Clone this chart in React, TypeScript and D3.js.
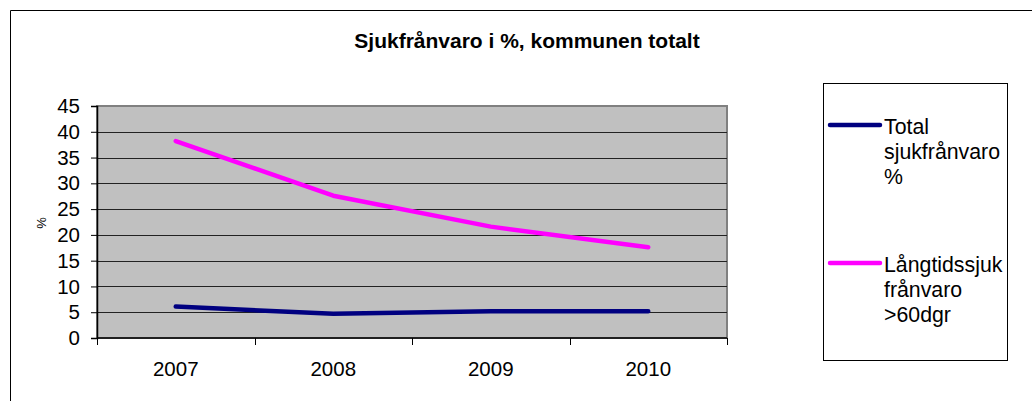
import { useEffect, useRef } from "react";
import * as d3 from "d3";

const years = ["2007", "2008", "2009", "2010"];
const totalSick = [6.1, 4.7, 5.2, 5.2];
const longTermSick = [38.2, 27.6, 21.6, 17.6];
const yTicks = [0, 5, 10, 15, 20, 25, 30, 35, 40, 45];

const series = [
  { name: ["Total", "sjukfrånvaro", "%"], values: totalSick, color: "#000080" },
  { name: ["Långtidssjuk", "frånvaro", ">60dgr"], values: longTermSick, color: "#FF00FF" },
];

function App() {
  const svgRef = useRef(null);

  useEffect(() => {
    const width = 1032;
    const height = 401;
    const plot = { left: 97, right: 727, top: 106, bottom: 338 };
    const font = "Liberation Sans, Arial, sans-serif";

    const svg = d3.select(svgRef.current).attr("width", width).attr("height", height);
    svg.selectAll("*").remove();

    // outer frame (continues past the picture on right/bottom)
    svg
      .append("path")
      .attr("d", `M10.5,${height + 5}V10.5H${width + 5}`)
      .attr("fill", "none")
      .attr("stroke", "#000")
      .attr("stroke-width", 1);

    svg
      .append("text")
      .attr("x", 527)
      .attr("y", 48)
      .attr("text-anchor", "middle")
      .style("font-family", font)
      .style("font-weight", "bold")
      .style("font-size", "21px")
      .text("Sjukfrånvaro i %, kommunen totalt");

    const x = d3.scaleBand().domain(years).range([plot.left, plot.right]);
    const y = d3.scaleLinear().domain([0, 45]).range([plot.bottom, plot.top]);

    svg
      .append("rect")
      .attr("x", plot.left)
      .attr("y", plot.top)
      .attr("width", plot.right - plot.left)
      .attr("height", plot.bottom - plot.top)
      .attr("fill", "#C0C0C0")
      .attr("stroke", "#808080")
      .attr("stroke-width", 2);

    svg
      .selectAll(".grid")
      .data(yTicks.filter((t) => t > 0 && t < 45))
      .enter()
      .append("line")
      .attr("x1", plot.left)
      .attr("x2", plot.right)
      .attr("y1", (d) => Math.round(y(d)) + 0.5)
      .attr("y2", (d) => Math.round(y(d)) + 0.5)
      .attr("stroke", "#222")
      .attr("stroke-width", 1);

    // y axis
    const yAxis = svg
      .append("g")
      .attr("transform", `translate(${plot.left},0)`)
      .call(d3.axisLeft(y).tickValues(yTicks).tickSize(6).tickPadding(11));
    yAxis.select(".domain").attr("stroke", "#000").attr("stroke-width", 1.5);
    yAxis.selectAll("line").attr("stroke", "#000");
    yAxis.selectAll("text").style("font-family", font).style("font-size", "20.5px").attr("fill", "#000");

    // x axis
    const xAxis = svg.append("g").attr("transform", `translate(0,${plot.bottom})`);
    xAxis
      .append("line")
      .attr("x1", plot.left)
      .attr("x2", plot.right)
      .attr("y1", 0)
      .attr("y2", 0)
      .attr("stroke", "#000")
      .attr("stroke-width", 1.5);
    const edges = years.map((d) => x(d)).concat([plot.right]);
    xAxis
      .selectAll(".tk")
      .data(edges)
      .enter()
      .append("line")
      .attr("x1", (d) => Math.round(d) + 0.5)
      .attr("x2", (d) => Math.round(d) + 0.5)
      .attr("y1", 0)
      .attr("y2", 7)
      .attr("stroke", "#000");
    xAxis
      .selectAll(".lbl")
      .data(years)
      .enter()
      .append("text")
      .attr("x", (d) => x(d) + x.bandwidth() / 2)
      .attr("y", 38)
      .attr("text-anchor", "middle")
      .style("font-family", font)
      .style("font-size", "20.5px")
      .text((d) => d);

    svg
      .append("text")
      .attr("transform", `translate(46,223) rotate(-90)`)
      .attr("text-anchor", "middle")
      .style("font-family", font)
      .style("font-size", "13px")
      .text("%");

    const line = d3
      .line<number>()
      .x((_, i) => x(years[i]) + x.bandwidth() / 2)
      .y((d) => y(d));

    series.forEach((s) => {
      svg
        .append("path")
        .attr("d", line(s.values))
        .attr("fill", "none")
        .attr("stroke", s.color)
        .attr("stroke-width", 4.5)
        .attr("stroke-linecap", "round")
        .attr("stroke-linejoin", "round");
    });

    // legend
    const legend = svg.append("g");
    legend
      .append("rect")
      .attr("x", 823.5)
      .attr("y", 83.5)
      .attr("width", 184)
      .attr("height", 277)
      .attr("fill", "#fff")
      .attr("stroke", "#000");

    const entryY = [125, 263];
    series.forEach((s, i) => {
      legend
        .append("line")
        .attr("x1", 830)
        .attr("x2", 880)
        .attr("y1", entryY[i])
        .attr("y2", entryY[i])
        .attr("stroke", s.color)
        .attr("stroke-width", 4.5)
        .attr("stroke-linecap", "round");
      s.name.forEach((t, j) => {
        legend
          .append("text")
          .attr("x", 884)
          .attr("y", entryY[i] + 9 + j * 25)
          .style("font-family", font)
          .style("font-size", "21.3px")
          .text(t);
      });
    });
  }, []);

  return (
    <div style={{ position: "absolute", left: 0, top: 0 }}>
      <svg ref={svgRef} style={{ display: "block" }}></svg>
    </div>
  );
}

export default App;
